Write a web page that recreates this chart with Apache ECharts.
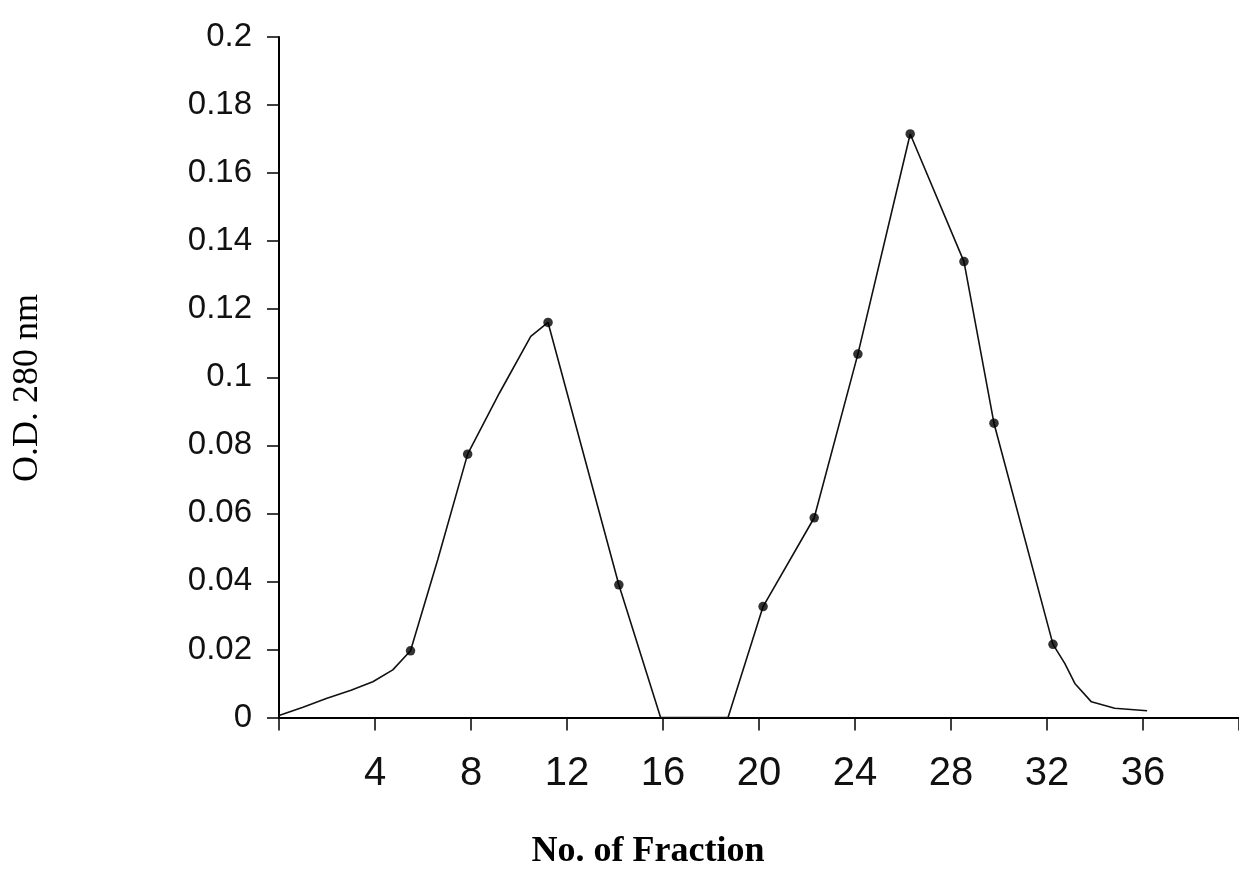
<!DOCTYPE html>
<html><head><meta charset="utf-8">
<script src="https://cdn.jsdelivr.net/npm/echarts@6/dist/echarts.min.js"></script>
<style>html,body{margin:0;padding:0;background:#fff}#c{width:1239px;height:873px}</style>
</head><body><div id="c"></div>
<script>
// Curve (traced line) points
const curveX = [0, 1, 1.97, 3.0, 3.91, 4.74, 5.48, 6.61, 7.86, 9.18, 10.49, 11.21, 14.16, 15.9, 18.71, 20.17, 22.3, 24.12, 26.3, 28.54, 29.79, 32.25, 32.74, 33.16, 33.85, 34.82, 36.17];
const curveY = [0.0006, 0.003, 0.0056, 0.008, 0.0105, 0.014, 0.0196, 0.0463, 0.0774, 0.0953, 0.112, 0.1161, 0.039, 0, 0, 0.0326, 0.0587, 0.1068, 0.1715, 0.134, 0.0865, 0.0215, 0.0159, 0.01, 0.0046, 0.0027, 0.002];
// Measured fractions (dots)
const dotX = [5.48, 7.86, 11.21, 14.16, 20.17, 22.3, 24.12, 26.3, 28.54, 29.79, 32.25];
const dotY = [0.0196, 0.0774, 0.1161, 0.039, 0.0326, 0.0587, 0.1068, 0.1715, 0.134, 0.0865, 0.0215];
// Axis ticks / labels
const xTicks = [0, 4, 8, 12, 16, 20, 24, 28, 32, 36, 40];
const xLabels = [4, 8, 12, 16, 20, 24, 28, 32, 36];
const yTitle = 'O.D. 280 nm';
const xTitle = 'No. of Fraction';

const chart = echarts.init(document.getElementById('c'), null, {renderer: 'canvas'});
const curve = curveX.map((x, i) => [x, curveY[i]]);
const dots = dotX.map((x, i) => [x, dotY[i]]);
chart.setOption({
  animation: false,
  backgroundColor: '#ffffff',
  grid: {left: 279, right: 0, top: 37, bottom: 155.5, containLabel: false},
  xAxis: {
    type: 'value', min: 0, max: 40, interval: 4,
    axisLine: {show: true, onZero: false, lineStyle: {color: '#000', width: 2}},
    axisTick: {show: true, customValues: xTicks, length: 13, lineStyle: {color: '#000', width: 1.5}},
    axisLabel: {customValues: xLabels, color: '#111', fontSize: 40, fontFamily: '"Liberation Sans", Arial, sans-serif', margin: 36},
    splitLine: {show: false}
  },
  yAxis: {
    type: 'value', min: 0, max: 0.2, interval: 0.02,
    axisLine: {show: true, lineStyle: {color: '#000', width: 2}},
    axisTick: {show: true, length: 12, lineStyle: {color: '#000', width: 1.5}},
    axisLabel: {color: '#111', fontSize: 33, fontFamily: '"Liberation Sans", Arial, sans-serif', margin: 27},
    splitLine: {show: false}
  },
  graphic: [
    {type: 'text', x: 27.5, y: 388, rotation: Math.PI / 2,
     style: {text: yTitle, font: '36px "Liberation Serif", "Times New Roman", serif', fill: '#000', textAlign: 'center', textVerticalAlign: 'middle'}},
    {type: 'text', x: 648, y: 852,
     style: {text: xTitle, font: 'bold 36px "Liberation Serif", "Times New Roman", serif', fill: '#000', textAlign: 'center', textVerticalAlign: 'middle'}}
  ],
  series: [
    {type: 'line', data: curve, showSymbol: false, smooth: false, lineStyle: {color: '#111', width: 1.6}, z: 2},
    {type: 'scatter', data: dots, symbol: 'circle', symbolSize: 9.5, itemStyle: {color: '#000'}, z: 3}
  ]
});
</script></body></html>
